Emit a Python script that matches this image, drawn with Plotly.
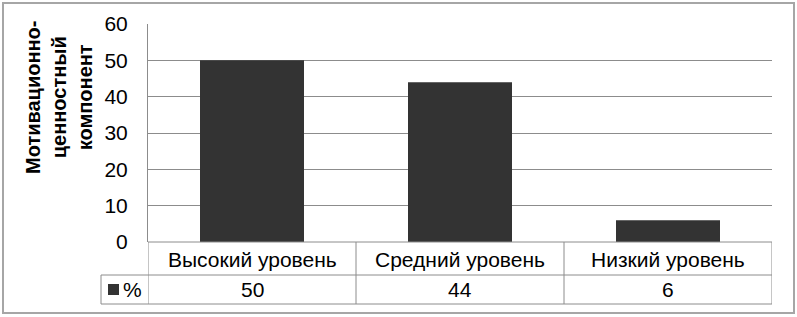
import plotly.graph_objects as go

categories = ["Высокий уровень", "Средний уровень", "Низкий уровень"]
values = [50, 44, 6]
series_name = "%"
y_title = "Мотивационно-<br>ценностный<br>компонент"
y_ticks = [0, 10, 20, 30, 40, 50, 60]

W, H = 797, 317
L, R, T, B = 148, 25, 24, 75
pw, ph = W - L - R, H - T - B

def px_x(p):
    return (p - L) / pw

def px_y(p):
    return (H - B - p) / ph

FONT = "Liberation Sans, Arial, sans-serif"
GRID = "#8c8c8c"
BAR = "#333333"
FS = 21

xs = list(range(len(categories)))
fig = go.Figure(go.Bar(x=xs, y=values, width=0.5, marker=dict(color=BAR, line=dict(width=0)), showlegend=False,
                       hoverinfo="skip"))

shapes = []
row_mid = px_y(275)
row_bot = px_y(304)
line = dict(color=GRID, width=1)
for i in range(len(categories) + 1):
    xb = i - 0.5
    shapes.append(dict(type="line", xref="x", yref="paper", x0=xb, x1=xb, y0=0, y1=row_bot, line=line))
shapes.append(dict(type="line", xref="x", yref="paper", x0=-0.5, x1=len(categories) - 0.5, y0=0, y1=0, line=line))
shapes.append(dict(type="line", xref="paper", yref="paper", x0=px_x(101), x1=px_x(772), y0=row_mid, y1=row_mid, line=line))
shapes.append(dict(type="line", xref="paper", yref="paper", x0=px_x(101), x1=px_x(772), y0=row_bot, y1=row_bot, line=line))
shapes.append(dict(type="line", xref="paper", yref="paper", x0=px_x(101), x1=px_x(101), y0=row_mid, y1=row_bot, line=line))
shapes.append(dict(type="rect", xref="paper", yref="paper", x0=px_x(108), x1=px_x(119), y0=px_y(295), y1=px_y(284),
                   fillcolor=BAR, line=dict(width=0)))
shapes.append(dict(type="rect", xref="paper", yref="paper", x0=px_x(3), x1=px_x(794), y0=px_y(313), y1=px_y(3),
                   line=dict(color="#a6a6a6", width=2)))

annotations = []
for i, (c, v) in enumerate(zip(categories, values)):
    annotations.append(dict(x=i, xref="x", y=px_y(259), yref="paper", text=c, showarrow=False,
                            font=dict(family=FONT, size=FS, color="black"), xanchor="center", yanchor="middle"))
    annotations.append(dict(x=i, xref="x", y=px_y(289), yref="paper", text=str(v), showarrow=False,
                            font=dict(family=FONT, size=FS, color="black"), xanchor="center", yanchor="middle"))
annotations.append(dict(x=px_x(132), xref="paper", y=px_y(289), yref="paper", text=series_name, showarrow=False,
                        font=dict(family=FONT, size=FS, color="black"), xanchor="center", yanchor="middle"))
annotations.append(dict(x=px_x(59), xref="paper", y=px_y(98), yref="paper", text="<b>" + y_title + "</b>",
                        showarrow=False, textangle=-90, align="center",
                        font=dict(family=FONT, size=20, color="black"), xanchor="center", yanchor="middle"))

fig.update_layout(
    width=W, height=H,
    margin=dict(l=L, r=R, t=T, b=B),
    paper_bgcolor="white", plot_bgcolor="white",
    bargap=0.5,
    shapes=shapes, annotations=annotations,
    xaxis=dict(range=[-0.5, len(categories) - 0.5], showticklabels=False, showgrid=False, zeroline=False,
               showline=False, ticks=""),
    yaxis=dict(range=[0, 60], tickvals=y_ticks, showgrid=True, gridcolor=GRID, gridwidth=1, zeroline=False,
               showline=True, linecolor=GRID, linewidth=1, ticks="", ticklabelstandoff=15,
               tickfont=dict(family=FONT, size=21, color="black")),
)

fig.write_html("out.html", config={"displayModeBar": False},
               post_script="document.body.style.margin='0';document.body.style.overflow='hidden';")
